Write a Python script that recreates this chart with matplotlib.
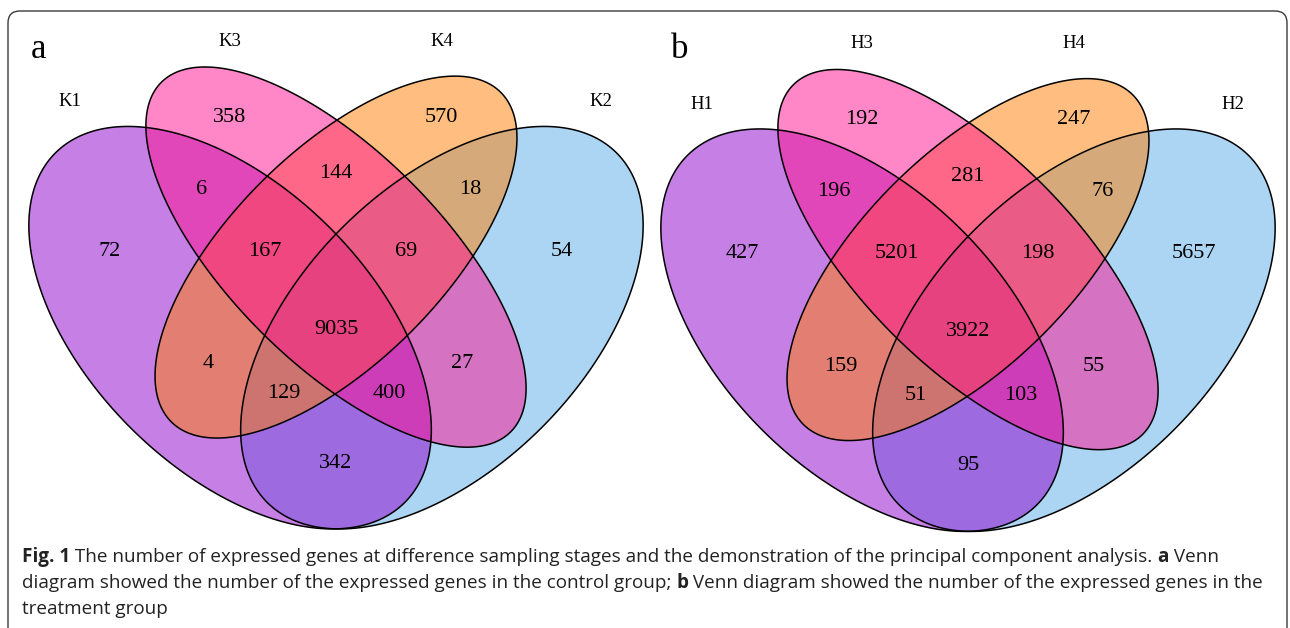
import numpy as np
import matplotlib
matplotlib.use("Agg")
import matplotlib.pyplot as plt
from matplotlib.patches import Polygon, FancyBboxPatch

# ---------------- data ----------------
region_keys = ["1", "2", "3", "4", "13", "24", "34", "12", "14", "23",
               "134", "234", "124", "123", "1234"]
counts_a = [72, 54, 358, 570, 6, 18, 144, 342, 4, 27, 167, 69, 129, 400, 9035]
counts_b = [427, 5657, 192, 247, 196, 76, 281, 95, 159, 55, 5201, 198, 51, 103, 3922]
set_names_a = ["K1", "K2", "K3", "K4"]
set_names_b = ["H1", "H2", "H3", "H4"]
panel_letters = ["a", "b"]

# ---------------- layout (pixels / venn units) ----------------
W, H = 1290, 628
# ellipse geometry in venn units: cx, cy, a, b, angle
ell = {"1": (0.35, 0.47, 0.35, 0.20, 135),
       "2": (0.65, 0.47, 0.35, 0.20, 45),
       "3": (0.50, 0.57, 0.35, 0.15, 135),
       "4": (0.50, 0.57, 0.33, 0.15, 45)}
fills = {"1": "#8F00CD", "2": "#5BADEB", "3": "#FF1191", "4": "#FF7F01"}
draw_order = ["2", "1", "4", "3"]
SCALE = 706.0

# label offsets (dx from panel center, dy from panel base) in pixels
region_off = {"1": (-226, -408.5), "2": (226, -408.5), "3": (-106, -542.5), "4": (105.5, -542.5),
              "13": (-134, -470.5), "24": (134.5, -470.5), "34": (0, -485.5), "12": (0, -196.5),
              "14": (-127.5, -295.5), "23": (126, -295.5), "134": (-71, -408.5), "234": (70, -408.5),
              "124": (-52, -266.5), "123": (53, -266.5), "1234": (0, -330.5)}
setlab_off = {"1": (-266, -557.5), "2": (265, -557.5), "3": (-106, -618.5), "4": (105.5, -618.5)}

panels = [(336, 659.5), (968, 662)]
letter_pos = [(38, 50), (680, 49)]

fig = plt.figure(figsize=(W / 100, H / 100), dpi=100)
ax = fig.add_axes([0, 0, 1, 1])
ax.set_xlim(0, W)
ax.set_ylim(H, 0)
ax.axis("off")

# frame
frame = FancyBboxPatch((8, 11), 1279, 700, boxstyle="round,pad=0,rounding_size=12",
                       fc="white", ec="#3a3a3a", lw=1.0, zorder=0)
ax.add_patch(frame)


def ellipse_pts(cx, cy, a, b, ang, X0, Y0):
    t = np.linspace(0, 2 * np.pi, 400)
    th = np.deg2rad(ang)
    x = cx + a * np.cos(t) * np.cos(th) - b * np.sin(t) * np.sin(th)
    y = cy + a * np.cos(t) * np.sin(th) + b * np.sin(t) * np.cos(th)
    return np.column_stack([X0 + SCALE * (x - 0.5), Y0 - SCALE * y])


serif = "Liberation Serif"
for (X0, Y0), counts, names, letter, lp in zip(panels, [counts_a, counts_b],
                                             [set_names_a, set_names_b], panel_letters, letter_pos):
    for k in draw_order:
        pts = ellipse_pts(*ell[k], X0, Y0)
        ax.add_patch(Polygon(pts, closed=True, fc=fills[k], alpha=0.5, ec="none", zorder=1))
    for k in draw_order:
        pts = ellipse_pts(*ell[k], X0, Y0)
        ax.add_patch(Polygon(pts, closed=True, fill=False, ec="black", lw=1.1, zorder=2))
    for key, val in zip(region_keys, counts):
        dx, dy = region_off[key]
        ax.text(X0 + dx, Y0 + dy, str(val), ha="center", va="center", fontsize=16,
                family=serif, color="black", zorder=3)
    for i, nm in enumerate(names):
        dx, dy = setlab_off[str(i + 1)]
        ax.text(X0 + dx, Y0 + dy, nm, ha="center", va="center", fontsize=13.5,
                family=serif, color="black", zorder=3)
    ax.text(lp[0], lp[1], letter, ha="center", va="center", fontsize=25, family=serif, zorder=3)

# caption with mixed bold runs
cap_lines = [
    [("Fig. 1", "bold"), (" The number of expressed genes at difference sampling stages and the demonstration of the principal component analysis. ", "normal"), ("a", "bold"), (" Venn", "normal")],
    [("diagram showed the number of the expressed genes in the control group; ", "normal"), ("b", "bold"), (" Venn diagram showed the number of the expressed genes in the", "normal")],
    [("treatment group", "normal")],
]
cap_y = [557, 583, 609]
cap_font = "Open Sans"
fig.canvas.draw()
renderer = fig.canvas.get_renderer()
inv = ax.transData.inverted()
for runs, yy in zip(cap_lines, cap_y):
    x = 22.0
    for txt, wt in runs:
        t = ax.text(x, yy, txt, ha="left", va="center", fontsize=13.6, family=cap_font,
                    weight=wt, color="#222222", zorder=3)
        bb = t.get_window_extent(renderer=renderer)
        x0d = inv.transform((bb.x0, bb.y0))[0]
        x1d = inv.transform((bb.x1, bb.y0))[0]
        x += (x1d - x0d)

fig.savefig("out.png", dpi=100)
